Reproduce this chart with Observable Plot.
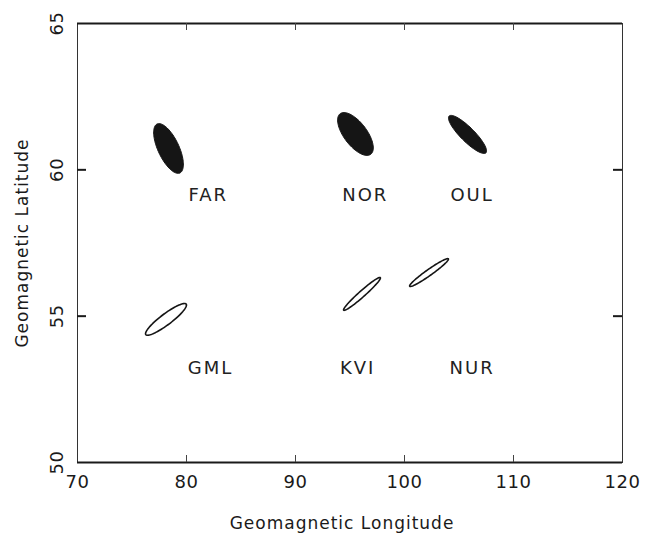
<!DOCTYPE html>
<html>
<head>
<meta charset="utf-8">
<script src="https://cdn.jsdelivr.net/npm/d3@7"></script>
<script src="https://cdn.jsdelivr.net/npm/@observablehq/plot@0.6"></script>
<style>
  html, body { margin: 0; padding: 0; background: #fff; }
  #chart { width: 654px; height: 535px; }
</style>
</head>
<body>
<div id="chart"></div>
<script>
// ---- data ----
const stations = ["FAR", "NOR", "OUL", "GML", "KVI", "NUR"];
const centerLon = [78.35, 95.50, 105.78, 78.12, 96.10, 102.25];
const centerLat = [60.73, 61.225, 61.21, 54.89, 55.76, 56.49];
// ellipse half-axes expressed as (lon, lat) vectors
const majorLon = [1.047, 1.403, 1.686, 1.853, 1.681, 1.774];
const majorLat = [-0.836, -0.693, -0.628, 0.520, 0.556, 0.468];
const minorLon = [0.873, 0.842, 0.454, 0.304, 0.183, 0.159];
const minorLat = [0.152, 0.236, 0.169, -0.150, -0.077, -0.084];
const filled = [true, true, true, false, false, false];
const labelLon = [82.0, 96.4, 106.2, 82.2, 95.7, 106.2];
const labelLat = [59.12, 59.12, 59.12, 53.21, 53.21, 53.21];

const xDomain = [70, 120];
const yDomain = [50, 65];
const xTickLabels = [70, 80, 90, 100, 110, 120];
const yTickLabels = [50, 55, 60, 65];
const xInnerTicks = [80, 90, 100, 110];
const yInnerTicks = [55, 60];
const xTitle = "Geomagnetic Longitude";
const yTitle = "Geomagnetic Latitude";

// ---- build ellipse outlines from the parameters ----
const N = 96;
const outline = [];
stations.forEach((s, i) => {
  for (let k = 0; k < N; k++) {
    const t = (2 * Math.PI * k) / N;
    outline.push({
      station: s,
      filled: filled[i],
      lon: centerLon[i] + Math.cos(t) * majorLon[i] + Math.sin(t) * minorLon[i],
      lat: centerLat[i] + Math.cos(t) * majorLat[i] + Math.sin(t) * minorLat[i]
    });
  }
});
const labels = stations.map((s, i) => ({station: s, lon: labelLon[i], lat: labelLat[i]}));

const W = 654, H = 535;
const mT = 23, mB = 73, mL = 77, mR = 32;
const innerH = H - mT - mB;
const innerW = W - mL - mR;
const font = "'DejaVu Sans', sans-serif";
const ink = "#1a1a1a";
const centered = {textAnchor: "middle", lineAnchor: "middle"};

const chart = Plot.plot({
  width: W,
  height: H,
  marginTop: mT,
  marginBottom: mB,
  marginLeft: mL,
  marginRight: mR,
  x: {domain: xDomain, axis: null},
  y: {domain: yDomain, axis: null},
  style: {fontFamily: font, background: "#fff", color: ink, overflow: "visible"},
  marks: [
    Plot.frame({stroke: "#333", strokeWidth: 1}),
    Plot.ruleY(yDomain, {stroke: ink, strokeWidth: 2}),
    // inward ticks
    Plot.ruleX(xInnerTicks, {x: d => d, insetTop: innerH - 7, stroke: "#444", strokeWidth: 1}),
    Plot.ruleX(xInnerTicks, {x: d => d, insetBottom: innerH - 7, stroke: "#444", strokeWidth: 1}),
    Plot.ruleY(yInnerTicks, {y: d => d, insetRight: innerW - 9, stroke: ink, strokeWidth: 2}),
    Plot.ruleY(yInnerTicks, {y: d => d, insetLeft: innerW - 9, stroke: ink, strokeWidth: 2}),
    // tick labels
    Plot.text(xTickLabels, {x: d => d, frameAnchor: "bottom", dy: 20, text: d => String(d),
      fontSize: 18, fill: ink, ...centered}),
    Plot.text(yTickLabels, {y: d => d, frameAnchor: "left", dx: -20, rotate: -90, text: d => String(d),
      fontSize: 18, fill: ink, ...centered}),
    // axis titles
    Plot.text([xTitle], {frameAnchor: "bottom", dy: 61, dx: -8, text: d => d, fontSize: 17, fill: ink,
      className: "title", ...centered}),
    Plot.text([yTitle], {frameAnchor: "left", dx: -55, rotate: -90, text: d => d, fontSize: 17, fill: ink,
      className: "title", ...centered}),
    // ellipses
    Plot.line(outline.filter(d => d.filled), {x: "lon", y: "lat", z: "station", curve: "linear-closed",
      fill: "#151515", stroke: "#151515", strokeWidth: 1}),
    Plot.line(outline.filter(d => !d.filled), {x: "lon", y: "lat", z: "station", curve: "linear-closed",
      fill: "none", stroke: "#151515", strokeWidth: 1.6}),
    // station labels
    Plot.text(labels, {x: "lon", y: "lat", text: "station", fontSize: 18, fill: "#222",
      className: "stn", ...centered})
  ]
});
chart.querySelectorAll("text").forEach(t => t.style.letterSpacing = "0.6px");
chart.querySelectorAll("g.title text").forEach(t => t.style.letterSpacing = "1px");
chart.querySelectorAll("g.stn text").forEach(t => t.style.letterSpacing = "2px");
document.getElementById("chart").appendChild(chart);
</script>
</body>
</html>
